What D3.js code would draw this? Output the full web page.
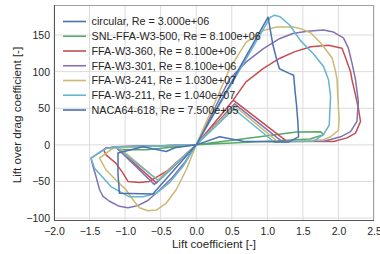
<!DOCTYPE html>
<html><head><meta charset="utf-8">
<script src="https://cdn.jsdelivr.net/npm/d3@7"></script>
<style>body{margin:0;background:#fff}svg{display:block}</style>
</head><body><svg id="c" width="380" height="254"></svg>
<script>
const labels = ["circular, Re = 3.000e+06","SNL-FFA-W3-500, Re = 8.100e+06","FFA-W3-360, Re = 8.100e+06","FFA-W3-301, Re = 8.100e+06","FFA-W3-241, Re = 1.030e+07","FFA-W3-211, Re = 1.040e+07","NACA64-618, Re = 7.500e+05"];
const colors = ["#4C72B0","#55A868","#C44E52","#8172B2","#CCB974","#64B5CD","#4C72B0"];
const xTicks = [-2.0,-1.5,-1.0,-0.5,0.0,0.5,1.0,1.5,2.0,2.5];
const yTicks = [-100,-50,0,50,100,150];

const circularCl = [0, 0];
const circularLd = [0, 0];
const w500Cl = [0,-0.7,-1.08,-1.15,-0.6,0,0.7,1.41,1.75,1.79,1.6,1.0,0];
const w500Ld = [0,-6.8,-6.8,-3,-1.5,0,8.6,17.7,18,14,8,5,0];
const w360Cl = [0,-0.235,-0.42,-0.54,-0.66,-0.80,-0.96,-1.03,-1.13,-1.27,-1.30,-1.27,-1.12,-0.55,0,0.52,0.70,0.94,1.17,1.38,1.61,1.86,2.05,2.10,2.17,2.19,2.24,2.28,2.31,2.24,2.12,1.93,1.27,0.52,0,-0.56,-1.12];
const w360Ld = [0,-20.5,-36.4,-43,-50,-51.4,-50,-38.6,-25,-13.6,-6.8,-4.5,-2.5,-1.5,0,61,86,104,118,127,134,136,132,119,100,89,68,50,32,16,9.5,4.5,5,61,0,-52,-4];
const w301Cl = [0,-0.155,-0.34,-0.54,-0.68,-0.82,-0.96,-1.08,-1.22,-1.31,-1.36,-1.41,-1.45,-1.48,-1.27,-1.12,-0.55,0,0.47,0.70,0.94,1.17,1.36,1.56,1.79,1.93,2.07,2.14,2.19,2.24,2.28,2.26,2.17,2.03,1.8,1.2,0.54,0,-0.59,-1.12];
const w301Ld = [0,-23,-45,-64,-76,-83,-86,-84,-77,-70.5,-61,-43,-30,-18,-4.5,-2.5,-1.5,0,90,113,131,145,152,155,157,154,146,132,112,89,59,32,18,11,5,5,56,0,-54,-4];
const w241Cl = [0,-0.14,-0.28,-0.42,-0.56,-0.68,-0.80,-0.89,-0.99,-1.13,-1.27,-1.36,-1.17,-0.55,0,0.47,0.70,0.94,1.13,1.36,1.46,1.61,1.75,1.91,1.96,1.98,2.0,2.01,2.0,1.89,1.79,1.15,0.54,0,-0.54,-1.08];
const w241Ld = [0,-34,-61,-79.5,-89,-90,-86,-75,-61,-48,-34,-18,-4.5,-1.5,0,104,140,156,161,161,159,153,139,119,100,89,50,37,20,11,7,4,53,0,-48,-4];
const w211Cl = [0,-0.19,-0.38,-0.56,-0.75,-0.94,-1.2,-1.31,-1.43,-1.48,-1.27,-1.12,-0.55,0,1.04,1.10,1.18,1.32,1.46,1.65,1.79,1.86,1.89,1.88,1.87,1.79,1.65,1.1,0.53,0,-0.53,-1.12];
const w211Ld = [0,-30,-52,-66,-71,-71,-57,-45,-32,-18,-5,-2.5,-1.5,0,174,177,175,163,143,124,107,89,66,48,27,14,5,3.5,49,0,-49,-3.5];
const nacaCl = [0,-0.61,-1.08,-1.10,-1.10,-0.75,-0.42,-0.3,0,1.01,1.08,1.13,1.17,1.30,1.37,1.39,1.41,1.43,1.44,1.3,0.66,0.33,0];
const nacaLd = [0,-67,-66,-40,-11,-2.5,-9,-4,0,174.5,136,117,104,98,95,73,55,30,11,4,5,11,0];

const seriesCl = [circularCl,w500Cl,w360Cl,w301Cl,w241Cl,w211Cl,nacaCl];
const seriesLd = [circularLd,w500Ld,w360Ld,w301Ld,w241Ld,w211Ld,nacaLd];

const svg = d3.select("#c");
const L=54,R=374,T=5,B=221;
const x = d3.scaleLinear().domain([-2,2.5]).range([L,R]);
const y = d3.scaleLinear().domain([-104,191]).range([B,T]);
const font = "'Liberation Sans', Arial, sans-serif";

// grid
const g = svg.append("g");
g.selectAll("line.vx").data(xTicks).join("line")
  .attr("x1",d=>x(d)).attr("x2",d=>x(d)).attr("y1",T).attr("y2",B)
  .attr("stroke","#dcdcdc").attr("stroke-width",1);
g.selectAll("line.hy").data(yTicks).join("line")
  .attr("y1",d=>y(d)).attr("y2",d=>y(d)).attr("x1",L).attr("x2",R)
  .attr("stroke","#dcdcdc").attr("stroke-width",1);

// lines
const line = d3.line().x(d=>x(d[0])).y(d=>y(d[1]));
seriesCl.forEach((cl,i)=>{
  const pts = cl.map((c,j)=>[c,seriesLd[i][j]]);
  svg.append("path").attr("d",line(pts)).attr("fill","none")
    .attr("stroke",colors[i]).attr("stroke-width",1.5).attr("stroke-linejoin","round");
});

// spines
svg.append("line").attr("x1",L).attr("x2",R).attr("y1",T+0.5).attr("y2",T+0.5).attr("stroke","#a0a0a0");
svg.append("line").attr("x1",R-0.5).attr("x2",R-0.5).attr("y1",T).attr("y2",B).attr("stroke","#a0a0a0");
svg.append("line").attr("x1",L+0.5).attr("x2",L+0.5).attr("y1",T).attr("y2",B).attr("stroke","#555");
svg.append("line").attr("x1",L).attr("x2",R).attr("y1",B-0.5).attr("y2",B-0.5).attr("stroke","#555");

// axes
const fmt = d3.format(".1f");
const xa = svg.append("g").attr("transform",`translate(0,${B})`)
  .call(d3.axisBottom(x).tickValues(xTicks).tickFormat(fmt).tickSize(0).tickPadding(7));
const ya = svg.append("g").attr("transform",`translate(${L},0)`)
  .call(d3.axisLeft(y).tickValues(yTicks).tickFormat(d3.format("d")).tickSize(0).tickPadding(4));
[xa,ya].forEach(a=>{
  a.select(".domain").remove();
  a.selectAll("text").attr("font-family",font).attr("font-size",10.5).attr("fill","#262626");
});

svg.append("text").attr("x",(L+R)/2).attr("y",247.5).attr("text-anchor","middle")
  .attr("font-family",font).attr("font-size",11.6).attr("fill","#262626").text("Lift coefficient [-]");
svg.append("text").attr("transform","translate(20.5,115) rotate(-90)").attr("text-anchor","middle")
  .attr("font-family",font).attr("font-size",11.6).attr("fill","#262626").text("Lift over drag coefficient [-]");

// legend
const lg = svg.append("g");
labels.forEach((lab,i)=>{
  const yy = 21.5 + i*14.75;
  lg.append("line").attr("x1",63).attr("x2",86).attr("y1",yy).attr("y2",yy)
    .attr("stroke",colors[i]).attr("stroke-width",1.6);
  lg.append("text").attr("x",91.5).attr("y",yy+3.8).attr("font-family",font)
    .attr("font-size",10.8).attr("fill","#262626").text(lab);
});
</script></body></html>
